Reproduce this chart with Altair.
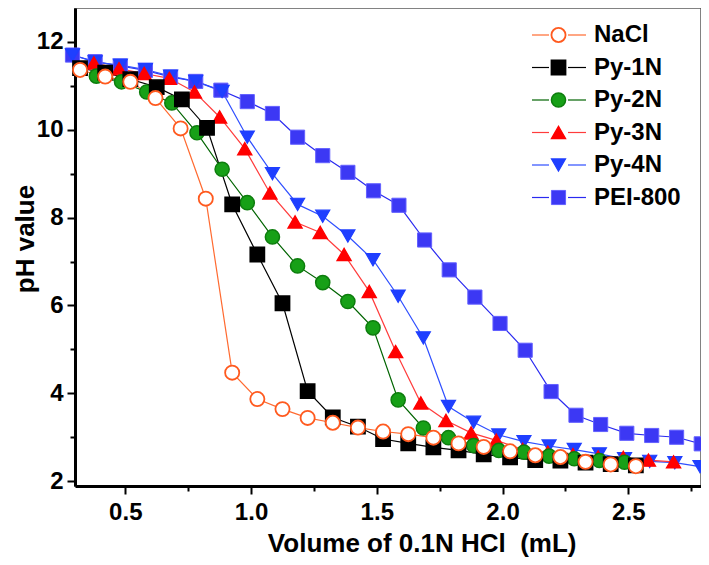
import altair as alt
import pandas as pd

series = ["NaCl", "Py-1N", "Py-2N", "Py-3N", "Py-4N", "PEI-800"]

nacl_x = [0.32, 0.42, 0.52, 0.62, 0.72, 0.82, 0.925, 1.025, 1.125, 1.225, 1.325, 1.425,
          1.525, 1.625, 1.725, 1.825, 1.925, 2.03, 2.13, 2.23, 2.33, 2.43, 2.53]
nacl_y = [11.36, 11.21, 11.09, 10.72, 10.03, 8.43, 4.47, 3.87, 3.64, 3.44, 3.33, 3.22,
          3.13, 3.07, 2.99, 2.86, 2.78, 2.68, 2.59, 2.55, 2.44, 2.38, 2.34]

py1_x = [0.32, 0.42, 0.52, 0.625, 0.725, 0.825, 0.925, 1.025, 1.125, 1.225, 1.325, 1.425,
         1.525, 1.625, 1.725, 1.825, 1.925, 2.03, 2.13, 2.23, 2.33, 2.43, 2.53]
py1_y = [11.40, 11.30, 11.15, 10.97, 10.69, 10.04, 8.30, 7.16, 6.05, 4.05, 3.45, 3.24,
         2.96, 2.86, 2.77, 2.70, 2.61, 2.54, 2.48, 2.47, 2.42, 2.39, 2.36]

py2_x = [0.385, 0.485, 0.585, 0.685, 0.785, 0.885, 0.985, 1.085, 1.185, 1.285, 1.385,
         1.485, 1.585, 1.685, 1.785, 1.885, 1.985, 2.085, 2.185, 2.285, 2.385, 2.485]
py2_y = [11.22, 11.09, 10.86, 10.61, 9.93, 9.10, 8.34, 7.56, 6.90, 6.52, 6.09,
         5.49, 3.85, 3.21, 2.99, 2.81, 2.70, 2.66, 2.57, 2.51, 2.47, 2.43]

py3_x = [0.375, 0.475, 0.575, 0.675, 0.775, 0.875, 0.975, 1.075, 1.175, 1.275, 1.37, 1.47,
         1.575, 1.675, 1.775, 1.875, 1.975, 2.08, 2.18, 2.28, 2.38, 2.48, 2.58, 2.68]
py3_y = [11.52, 11.39, 11.28, 11.17, 10.86, 10.29, 9.57, 8.56, 7.90, 7.66, 7.16, 6.32,
         4.95, 3.78, 3.38, 3.10, 2.93, 2.72, 2.66, 2.60, 2.55, 2.54, 2.48, 2.44]

py4_x = [0.29, 0.38, 0.48, 0.58, 0.68, 0.78, 0.885, 0.985, 1.085, 1.185, 1.285, 1.385, 1.485,
         1.585, 1.685, 1.785, 1.885, 1.985, 2.085, 2.185, 2.285, 2.385, 2.485, 2.585, 2.685, 2.785]
py4_y = [11.70, 11.54, 11.47, 11.37, 11.22, 11.10, 10.87, 9.83, 9.00, 8.30, 8.03, 7.58, 7.04,
         6.21, 5.26, 3.70, 3.34, 3.05, 2.90, 2.80, 2.72, 2.62, 2.51, 2.45, 2.42, 2.33]

pei_x = [0.29, 0.38, 0.48, 0.58, 0.68, 0.78, 0.88, 0.985, 1.085, 1.185, 1.285, 1.385, 1.487,
         1.588, 1.69, 1.788, 1.89, 1.99, 2.09, 2.193, 2.292, 2.39, 2.494, 2.593, 2.692, 2.79]
pei_y = [11.70, 11.55, 11.45, 11.35, 11.20, 11.10, 10.90, 10.64, 10.37, 9.83, 9.41, 9.03, 8.61,
         8.28, 7.49, 6.81, 6.19, 5.59, 4.98, 4.04, 3.50, 3.29, 3.09, 3.04, 3.00, 2.85]

x_ticks = [0.5, 0.75, 1.0, 1.25, 1.5, 1.75, 2.0, 2.25, 2.5, 2.75]
y_ticks = [2, 3, 4, 5, 6, 7, 8, 9, 10, 11, 12]

# draw order: PEI first (bottom) ... NaCl last (top)
parts = [("PEI-800", pei_x, pei_y), ("Py-4N", py4_x, py4_y), ("Py-3N", py3_x, py3_y),
         ("Py-2N", py2_x, py2_y), ("Py-1N", py1_x, py1_y), ("NaCl", nacl_x, nacl_y)]
df = pd.concat([pd.DataFrame({"series": n, "volume": xs, "ph": ys}) for n, xs, ys in parts],
               ignore_index=True)
df["order"] = range(len(df))

FONT = "Liberation Sans"
shape_scale = alt.Scale(domain=series, range=["circle", "square", "circle", "triangle-up", "triangle-down", "square"])
size_scale = alt.Scale(domain=series, range=[200, 200, 200, 290, 300, 200])
fill_scale = alt.Scale(domain=series, range=["#ffffff", "#000000", "#17a017", "#ff0000", "#1f3fff", "#3c38f4"])
stroke_scale = alt.Scale(domain=series, range=["#ff5a1f", "#000000", "#0d7d0d", "#ff0000", "#1f3fff", "#6360ff"])
line_scale = alt.Scale(domain=series, range=["#ff6a30", "#000000", "#006400", "#ff3c3c", "#2f4fff", "#2a2af0"])
sw_scale = alt.Scale(domain=series, range=[1.8, 1, 1, 1, 1, 1])

W, H = 626, 478
x_scale = alt.Scale(domain=[0.3, 0.3 + W / 251.5], nice=False, zero=False)
y_scale = alt.Scale(domain=[1.89, 1.89 + H / 43.93], nice=False, zero=False)

x_minor = "abs(datum.value*2 - round(datum.value*2)) > 0.001"
x_axis = alt.Axis(values=x_ticks,
                  labelExpr="abs(datum.value*2 - round(datum.value*2)) > 0.001 ? '' : format(datum.value, '.1f')",
                  tickSize={"condition": {"test": x_minor, "value": 5}, "value": 8},
                  labelPadding=6, title="Volume of 0.1N HCl \u00a0(mL)",
                  titleX=346.7, titleY=65, titleAlign="center", titleBaseline="alphabetic")
y_minor = "datum.value % 2 == 1"
y_axis = alt.Axis(values=y_ticks,
                  labelExpr="datum.value % 2 == 1 ? '' : datum.label",
                  tickSize={"condition": {"test": y_minor, "value": 5}, "value": 8},
                  labelPadding=4, title="pH value",
                  titleX=-42, titleY=230.5, titleAngle=270, titleAlign="center",
                  titleBaseline="alphabetic")

base = alt.Chart(df)
lines = base.mark_line(strokeWidth=1.2).encode(
    x=alt.X("volume:Q", scale=x_scale, axis=x_axis),
    y=alt.Y("ph:Q", scale=y_scale, axis=y_axis),
    color=alt.Color("series:N", scale=line_scale, legend=None),
)
points = base.mark_point(filled=True, opacity=1, fillOpacity=1, strokeOpacity=1).encode(
    x=alt.X("volume:Q", scale=x_scale, axis=x_axis),
    y=alt.Y("ph:Q", scale=y_scale, axis=y_axis),
    shape=alt.Shape("series:N", scale=shape_scale, legend=None),
    size=alt.Size("series:N", scale=size_scale, legend=None),
    fill=alt.Fill("series:N", scale=fill_scale, legend=None),
    stroke=alt.Stroke("series:N", scale=stroke_scale, legend=None),
    strokeWidth=alt.StrokeWidth("series:N", scale=sw_scale, legend=None),
    order=alt.Order("order:Q"),
)
main = alt.layer(lines, points)

# hand-built legend (plot-area pixel layout)
leg = pd.DataFrame({"series": series, "row": list(range(len(series)))})
leg["ly"] = 27 + 32.5 * leg["row"]
leg["xa1"], leg["xa2"] = 457, 474
leg["xs"] = 483.5
leg["xb1"], leg["xb2"] = 493, 511
leg["xt"] = 519
lb = alt.Chart(leg)
ly = alt.Y("ly:Q", scale=None, axis=None)
rule_a = lb.mark_rule(strokeWidth=1.2).encode(
    x=alt.X("xa1:Q", scale=None, axis=None), x2="xa2:Q", y=ly,
    color=alt.Color("series:N", scale=line_scale, legend=None))
rule_b = lb.mark_rule(strokeWidth=1.2).encode(
    x=alt.X("xb1:Q", scale=None, axis=None), x2="xb2:Q", y=ly,
    color=alt.Color("series:N", scale=line_scale, legend=None))
leg_pts = lb.mark_point(filled=True, opacity=1, fillOpacity=1, strokeOpacity=1).encode(
    x=alt.X("xs:Q", scale=None, axis=None), y=ly,
    shape=alt.Shape("series:N", scale=shape_scale, legend=None),
    size=alt.Size("series:N", scale=size_scale, legend=None),
    fill=alt.Fill("series:N", scale=fill_scale, legend=None),
    stroke=alt.Stroke("series:N", scale=stroke_scale, legend=None),
    strokeWidth=alt.StrokeWidth("series:N", scale=sw_scale, legend=None),
)
leg_txt = lb.mark_text(align="left", baseline="middle", font=FONT, fontSize=24,
                       fontWeight="bold", color="black").encode(
    x=alt.X("xt:Q", scale=None, axis=None), y=ly, text="series:N")
legend = alt.layer(rule_a, rule_b, leg_pts, leg_txt)

chart = alt.layer(main, legend).resolve_scale(x="independent", y="independent").properties(
    width=W, height=H,
    autosize=alt.AutoSizeParams(type="none"),
    padding={"left": 67, "top": 0, "right": 0, "bottom": 71},
).configure_view(stroke="#5a5a5a", strokeWidth=1.5).configure_axis(
    grid=False, domainColor="black", domainWidth=3, tickColor="black", tickWidth=2,
    labelFont=FONT, labelFontWeight="bold", labelFontSize=24, labelColor="black",
    titleFont=FONT, titleFontWeight="bold", titleFontSize=26, titleColor="black",
    labelOverlap=False,
)

chart.save("out.html", embed_options={"renderer": "svg", "actions": False})
